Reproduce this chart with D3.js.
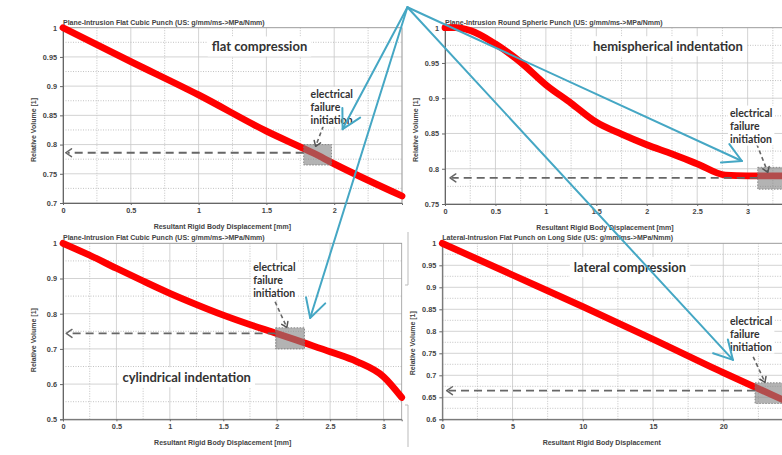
<!DOCTYPE html>
<html>
<head>
<meta charset="utf-8">
<script src="https://cdn.jsdelivr.net/npm/d3@7"></script>
<style>
  body { margin: 0; background: #fff; }
  svg { display: block; }
  .tick text { font-family: "Liberation Sans", Arial, sans-serif; font-size: 7.3px; font-weight: bold; fill: #444; }
  .small { font-family: "Liberation Sans", Arial, sans-serif; font-size: 7px; font-weight: bold; fill: #444; }
  .note { font-family: Lato, "Open Sans", sans-serif; font-weight: 700; fill: #333; }
</style>
</head>
<body>
<div class="chart"></div>
<script>
// curve values
const flatX = [0, 0.5, 1, 1.5, 1.85, 2, 2.5];
const flatY = [1, 0.942, 0.885, 0.823, 0.785, 0.767, 0.712];

const hemiX = [0, 0.1, 0.25, 0.5, 0.75, 1, 1.25, 1.5, 1.75, 2, 2.25, 2.5, 2.78, 3, 3.42];
const hemiY = [1, 1, 0.996, 0.977, 0.951, 0.919, 0.893, 0.866, 0.849, 0.834, 0.821, 0.807, 0.791, 0.79, 0.79];

const cylX = [0, 0.25, 0.5, 0.75, 1, 1.25, 1.5, 1.75, 2, 2.25, 2.5, 2.75, 3, 3.17];
const cylY = [1, 0.966, 0.929, 0.893, 0.858, 0.826, 0.796, 0.769, 0.744, 0.718, 0.692, 0.664, 0.621, 0.562];

const latX = [0, 5, 10, 15, 20, 24.75];
const latY = [1, 0.928, 0.856, 0.782, 0.706, 0.637];

// tick labels
const xTicksMm = [0, 0.5, 1, 1.5, 2];
const xTicksMm3 = [0, 0.5, 1, 1.5, 2, 2.5, 3];
const xTicksLat = [0, 5, 10, 15, 20];
const yTicks70 = [0.7, 0.75, 0.8, 0.85, 0.9, 0.95, 1];
const yTicks75 = [0.75, 0.8, 0.85, 0.9, 0.95, 1];
const yTicks50 = [0.5, 0.6, 0.7, 0.8, 0.9, 1];
const yTicks60 = [0.6, 0.65, 0.7, 0.75, 0.8, 0.85, 0.9, 0.95, 1];

const titles = [
  'Plane-Intrusion Flat Cubic Punch (US: g/mm/ms->MPa/Nmm)',
  'Plane-Intrusion Round Spheric Punch (US: g/mm/ms->MPa/Nmm)',
  'Plane-Intrusion Flat Cubic Punch (US: g/mm/ms->MPa/Nmm)',
  'Lateral-Intrusion Flat Punch on Long Side (US: g/mm/ms->MPa/Nmm)'
];
const xLabels = [
  'Resultant Rigid Body Displacement [mm]',
  'Resultant Rigid Body Displacement [mm]',
  'Resultant Rigid Body Displacement [mm]',
  'Resultant Rigid Body Displacement'
];
const yLabel = 'Relative Volume [1]';
const caseNames = ['flat compression', 'hemispherical indentation', 'cylindrical indentation', 'lateral compression'];
const failNote = ['electrical', 'failure', 'initiation'];

// failure box per panel: [x0, x1, y0, y1], level of the dashed arrow and where it ends
const failBox = [[1.775, 1.98, 0.765, 0.8], [3.1, 3.6, 0.771, 0.802], [1.99, 2.26, 0.70, 0.76], [22.26, 26, 0.636, 0.683]];
const failLevel = [0.786, 0.787, 0.744, 0.665];
const failArrowEnd = [0.02, 0.05, 0.03, 0.31];

const W = 782, H = 455;

const panels = [
  { xs: flatX, ys: flatY, xDom: [0, 2.5], yDom: [0.7, 1], xTicks: xTicksMm, yTicks: yTicks70, xStep: 0.25, yStep: 0.025,
    left: 63, right: 402, top: 27.7, bottom: 203,
    case: [1.449, 0.967], note: [1.826, 0.88], ptr: [[1.92, 0.832], [1.863, 0.797]],
    xl: 1.175, yl: 0.825, tip: [2.062, 0.8265] },
  { xs: hemiX, ys: hemiY, xDom: [0, 3.42], yDom: [0.75, 1], xTicks: xTicksMm3, yTicks: yTicks75, xStep: 0.25, yStep: 0.025,
    left: 445, right: 790, top: 27.7, bottom: 204,
    case: [2.21, 0.973], note: [2.825, 0.874], ptr: [[3.09, 0.835], [3.2, 0.795]],
    xl: 1.586, yl: 0.855, tip: [2.943, 0.811] },
  { xs: cylX, ys: cylY, xDom: [0, 3.17], yDom: [0.5, 1], xTicks: xTicksMm3, yTicks: yTicks50, xStep: 0.25, yStep: 0.05,
    left: 63, right: 401.7, top: 243.3, bottom: 419.3,
    case: [1.158, 0.618], note: [1.78, 0.921], ptr: [[1.985, 0.834], [2.095, 0.761]],
    xl: 1.495, yl: 0.725, tip: [2.313, 0.788] },
  { xs: latX, ys: latY, xDom: [0, 24.75], yDom: [0.6, 1], xTicks: xTicksLat, yTicks: yTicks60, xStep: 2.5, yStep: 0.025,
    left: 442.3, right: 790, top: 243.3, bottom: 419.3,
    case: [13.36, 0.945], note: [20.48, 0.815], ptr: [[22.13, 0.742], [22.97, 0.684]],
    xl: 11.35, yl: 0.773, tip: [20.69, 0.735] }
];

const svg = d3.select('.chart').append('svg')
    .attr('width', W)
    .attr('height', H);

// open chevron, like the hand-drawn arrows
function chevron(g, tx, ty, fx, fy, len, ang, color, sw) {
  const a = Math.atan2(fy - ty, fx - tx);
  const p1 = [tx + len * Math.cos(a + ang), ty + len * Math.sin(a + ang)];
  const p2 = [tx + len * Math.cos(a - ang), ty + len * Math.sin(a - ang)];
  g.append('path')
    .attr('d', `M${p1[0]},${p1[1]}L${tx},${ty}L${p2[0]},${p2[1]}`)
    .attr('fill', 'none')
    .attr('stroke', color)
    .attr('stroke-width', sw)
    .attr('stroke-linecap', 'round')
    .attr('stroke-linejoin', 'round');
}

// white backing under a text group
function backing(g, textSel, pad) {
  const b = textSel.node().getBBox();
  g.insert('rect', () => textSel.node())
    .attr('x', b.x - pad).attr('y', b.y - pad / 2)
    .attr('width', b.width + pad * 2).attr('height', b.height + pad)
    .attr('fill', '#fff');
}

const scales = [];

panels.forEach((p, i) => {
  const x = d3.scaleLinear().domain(p.xDom).range([p.left, p.right]);
  const y = d3.scaleLinear().domain(p.yDom).range([p.bottom, p.top]);
  scales.push({ x, y });
  const g = svg.append('g');

  // grid: dotted minor, solid major
  const xMinor = d3.range(p.xDom[0], p.xDom[1] + 1e-9, p.xStep);
  const yMinor = d3.range(p.yDom[0], p.yDom[1] + 1e-9, p.yStep);
  const isMajorX = d => p.xTicks.some(t => Math.abs(t - d) < 1e-6) ||
    Math.abs(d / (p.xStep * 2) - Math.round(d / (p.xStep * 2))) < 1e-6;
  g.selectAll('.xg').data(xMinor).enter().append('line')
    .attr('x1', d => x(d)).attr('x2', d => x(d))
    .attr('y1', p.top).attr('y2', p.bottom)
    .attr('stroke', d => isMajorX(d) ? '#c8c8c8' : '#b4b4b4').attr('stroke-width', 0.8)
    .attr('stroke-dasharray', d => isMajorX(d) ? null : '1,1.5');
  g.selectAll('.yg').data(yMinor).enter().append('line')
    .attr('x1', p.left).attr('x2', p.right)
    .attr('y1', d => y(d)).attr('y2', d => y(d))
    .attr('stroke', d => p.yTicks.some(t => Math.abs(t - d) < 1e-6) ? '#c8c8c8' : '#b4b4b4').attr('stroke-width', 0.8)
    .attr('stroke-dasharray', d => p.yTicks.some(t => Math.abs(t - d) < 1e-6) ? null : '1,1.5');

  // frame
  g.append('rect')
    .attr('x', p.left).attr('y', p.top)
    .attr('width', p.right - p.left).attr('height', p.bottom - p.top)
    .attr('fill', 'none').attr('stroke', '#999').attr('stroke-width', 0.8);

  // axes
  g.append('g')
    .attr('transform', `translate(0, ${p.bottom})`)
    .call(d3.axisBottom(x).tickValues(p.xTicks).tickSize(2).tickPadding(3).tickFormat(d3.format('')))
    .call(a => a.select('.domain').attr('stroke', '#666'))
    .call(a => a.selectAll('line').attr('stroke', '#666'));
  g.append('g')
    .attr('transform', `translate(${p.left}, 0)`)
    .call(d3.axisLeft(y).tickValues(p.yTicks).tickSize(3).tickPadding(3).tickFormat(d3.format('')))
    .call(a => a.select('.domain').attr('stroke', '#666'))
    .call(a => a.selectAll('line').attr('stroke', '#666'));

  // title and axis labels
  g.append('text').attr('class', 'small')
    .attr('x', p.left).attr('y', p.top - 3)
    .text(titles[i]);
  g.append('text').attr('class', 'small')
    .attr('x', x(p.xl)).attr('y', p.bottom + 25.5)
    .attr('text-anchor', 'middle')
    .text(xLabels[i]);
  g.append('text').attr('class', 'small')
    .attr('transform', `translate(${p.left - 27}, ${y(p.yl)}) rotate(-90)`)
    .attr('text-anchor', 'middle')
    .text(yLabel);

  // red curve
  const line = d3.line().x(d => x(d[0])).y(d => y(d[1])).curve(d3.curveMonotoneX);
  g.append('path')
    .datum(d3.zip(p.xs, p.ys))
    .attr('d', line)
    .attr('fill', 'none')
    .attr('stroke', '#f00')
    .attr('stroke-width', 6.8)
    .attr('stroke-linecap', 'round')
    .attr('stroke-linejoin', 'round');

  // failure box on top of the curve
  const b = failBox[i];
  g.append('rect')
    .attr('x', x(b[0])).attr('y', y(b[3]))
    .attr('width', x(b[1]) - x(b[0])).attr('height', y(b[2]) - y(b[3]))
    .attr('fill', '#808080').attr('fill-opacity', 0.6)
    .attr('stroke', '#777').attr('stroke-width', 0.8).attr('stroke-dasharray', '1.5,1.5');

  // dashed arrow back to the y axis
  const ly = y(failLevel[i]);
  g.append('line')
    .attr('x1', x(b[0])).attr('x2', x(failArrowEnd[i]) + 2)
    .attr('y1', ly).attr('y2', ly)
    .attr('stroke', '#666').attr('stroke-width', 1.8).attr('stroke-dasharray', '8,5');
  chevron(g, x(failArrowEnd[i]), ly, x(failArrowEnd[i]) + 10, ly, 7, 0.6, '#666', 1.5);

  // short dashed pointer from the note to the box
  const pa = p.ptr[0], pb = p.ptr[1];
  g.append('line')
    .attr('x1', x(pa[0])).attr('y1', y(pa[1]))
    .attr('x2', x(pb[0])).attr('y2', y(pb[1]))
    .attr('stroke', '#666').attr('stroke-width', 1.6).attr('stroke-dasharray', '4,3');
  chevron(g, x(pb[0]), y(pb[1]), x(pa[0]), y(pa[1]), 6, 0.6, '#555', 1.5);

  // case label
  const cl = g.append('text').attr('class', 'note')
    .attr('x', x(p.case[0])).attr('y', y(p.case[1]) + 4.5)
    .attr('text-anchor', 'middle')
    .attr('font-size', 13)
    .attr('fill', '#222')
    .text(caseNames[i]);
  backing(g, cl, 4);

  // failure note
  const nt = g.append('text').attr('class', 'note')
    .attr('font-size', 10.5);
  nt.selectAll('tspan').data(failNote).enter().append('tspan')
    .attr('x', x(p.note[0]))
    .attr('y', (d, k) => y(p.note[1]) + k * 13)
    .text(d => d);
  backing(g, nt, 2);
});

// little bracket marks between the lower panels
const br = svg.append('g').attr('stroke', '#bbb').attr('stroke-width', 1).attr('fill', 'none');
br.append('path').attr('d', 'M408,232V285H405');
br.append('path').attr('d', 'M405,405H408V447');

// blue call-out arrows from one hub, hub in panel 1 units
const hub = [2.54, 1.035];
const hx = scales[0].x(hub[0]), hy = scales[0].y(hub[1]);
const blue = svg.append('g');
panels.forEach((p, i) => {
  const tx = scales[i].x(p.tip[0]), ty = scales[i].y(p.tip[1]);
  blue.append('line')
    .attr('x1', hx).attr('y1', hy).attr('x2', tx).attr('y2', ty)
    .attr('stroke', '#45a7c4').attr('stroke-width', 2)
    .attr('stroke-linecap', 'round');
  chevron(blue, tx, ty, hx, hy, 21, 0.5, '#45a7c4', 2);
});
</script>
</body>
</html>
